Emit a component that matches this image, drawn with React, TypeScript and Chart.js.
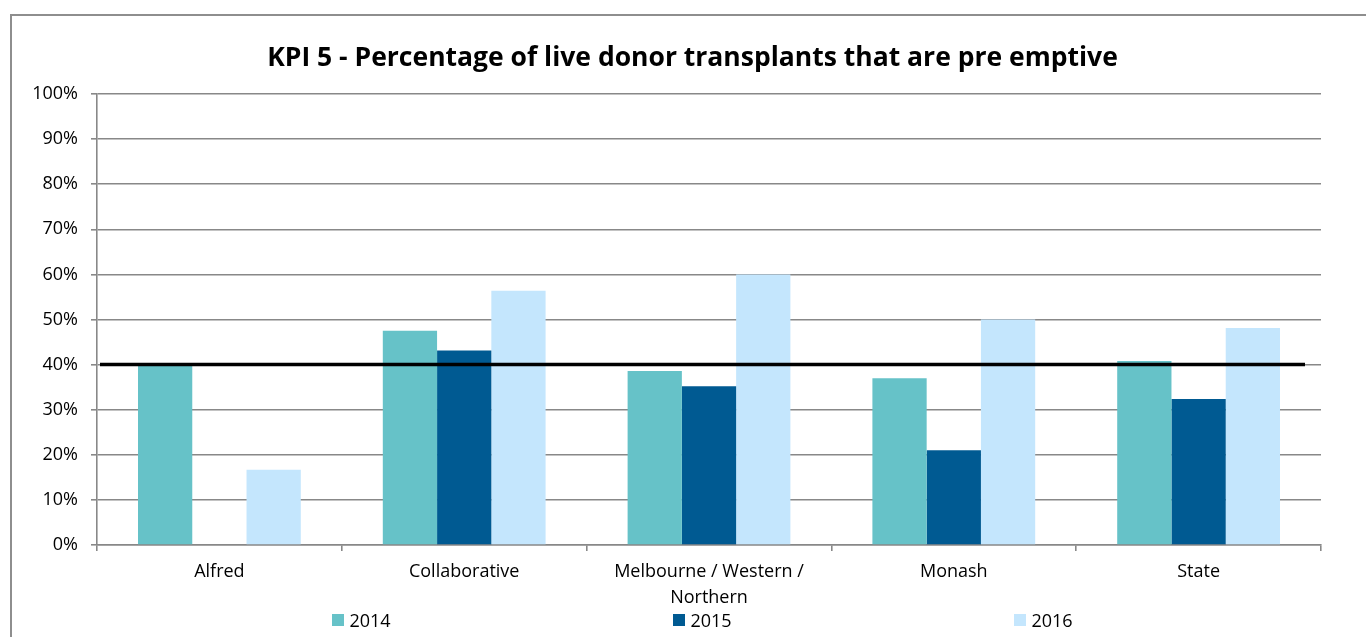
import React, { useEffect, useRef } from "react";
import { Chart, registerables } from "chart.js";

Chart.register(...registerables);

const TITLE = "KPI 5 - Percentage of live donor transplants that are pre emptive";
const categories: (string | string[])[] = [
  "Alfred",
  "Collaborative",
  ["Melbourne / Western /", "Northern"],
  "Monash",
  "State",
];
const seriesNames = ["2014", "2015", "2016"];
const series2014 = [40.0, 47.5, 38.6, 37.0, 40.8];
const series2015: (number | null)[] = [null, 43.1, 35.2, 21.0, 32.4];
const series2016 = [16.7, 56.4, 60.0, 50.0, 48.1];
const seriesColors = ["#66C2C8", "#005A92", "#C4E6FD"];
const TARGET = 40;
const yTicks = [0, 10, 20, 30, 40, 50, 60, 70, 80, 90, 100];

const FONT = "'Open Sans', 'Noto Sans', sans-serif";

const targetLine = {
  id: "targetLine",
  afterDatasetsDraw(chart: any) {
    const { ctx, chartArea, scales } = chart;
    const y = scales.y.getPixelForValue(TARGET);
    ctx.save();
    ctx.strokeStyle = "#000000";
    ctx.lineWidth = 3.5;
    ctx.beginPath();
    ctx.moveTo(chartArea.left + 3, y);
    ctx.lineTo(chartArea.right - 16, y);
    ctx.stroke();
    ctx.restore();
  },
};

export default function App() {
  const ref = useRef<HTMLCanvasElement>(null);

  useEffect(() => {
    if (!ref.current) return;
    const data = [series2014, series2015, series2016];
    const chart = new Chart(ref.current, {
      type: "bar",
      data: {
        labels: categories as any,
        datasets: seriesNames.map((name, i) => ({
          label: name,
          data: data[i] as any,
          backgroundColor: seriesColors[i],
          borderWidth: 0,
          categoryPercentage: 0.665,
          barPercentage: 1.0,
        })),
      },
      options: {
        responsive: false,
        animation: false,
        layout: { padding: { left: 0, right: 45, top: 78, bottom: 0 } },
        plugins: {
          legend: { display: false },
          tooltip: { enabled: false },
          title: { display: false },
        },
        scales: {
          x: {
            grid: {
              offset: true,
              drawOnChartArea: false,
              drawTicks: true,
              tickLength: 6,
              color: "#888888",
              lineWidth: 1.6,
            },
            border: { color: "#888888", width: 1.6 },
            ticks: {
              color: "#000000",
              font: { family: FONT, size: 18, lineHeight: 1.45 },
              padding: 8,
              maxRotation: 0,
              autoSkip: false,
            },
            afterFit(scale: any) {
              scale.height = 92;
            },
          },
          y: {
            min: 0,
            max: 100,
            afterBuildTicks(scale: any) {
              scale.ticks = yTicks.map((v) => ({ value: v }));
            },
            grid: {
              color: "#888888",
              lineWidth: 1.6,
              tickLength: 6,
            },
            border: { color: "#888888", width: 1.6 },
            ticks: {
              color: "#000000",
              font: { family: FONT, size: 18 },
              padding: 13,
              callback: (v: any) => v + "%",
            },
            afterFit(scale: any) {
              scale.width = 85;
            },
          },
        },
      },
      plugins: [targetLine],
    });
    return () => chart.destroy();
  }, []);

  return (
    <div style={{ position: "fixed", left: 0, top: 0, width: 1366, height: 637, overflow: "hidden", background: "#fff" }}>
      <div
        style={{
          position: "absolute",
          left: 10,
          top: 14,
          width: 1400,
          height: 700,
          border: "2px solid #8e8e8e",
          boxSizing: "border-box",
        }}
      />
      <canvas
        ref={ref}
        width={1354}
        height={621}
        style={{ position: "absolute", left: 12, top: 16, width: 1354, height: 621 }}
      />
      <div
        style={{
          position: "absolute",
          left: 0,
          top: 40,
          width: 1385,
          height: 32,
          lineHeight: "32px",
          textAlign: "center",
          fontFamily: FONT,
          fontSize: 26.5,
          fontWeight: "bold",
          color: "#000",
          whiteSpace: "nowrap",
        }}
      >
        {TITLE}
      </div>
      <div
        style={{
          position: "absolute",
          left: 191,
          top: 607,
          width: 1023,
          height: 26,
          display: "flex",
          fontFamily: FONT,
          fontSize: 18,
          color: "#000",
        }}
      >
        {seriesNames.map((name, i) => (
          <div key={name} style={{ flex: "0 0 341px", display: "flex", justifyContent: "center", alignItems: "center" }}>
            <span style={{ display: "inline-block", width: 12, height: 12, background: seriesColors[i], marginRight: 5 }} />
            <span style={{ lineHeight: "26px" }}>{name}</span>
          </div>
        ))}
      </div>
    </div>
  );
}
